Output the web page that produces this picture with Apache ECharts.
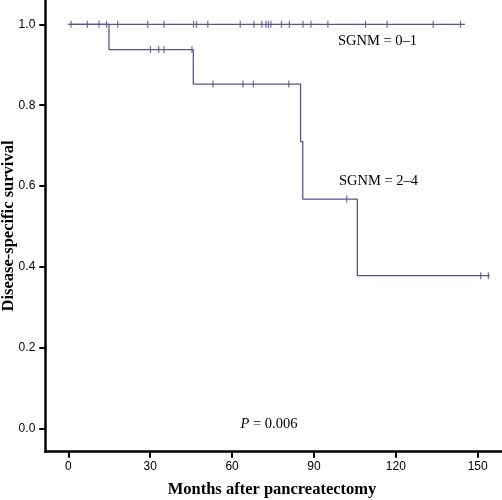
<!DOCTYPE html>
<html>
<head>
<meta charset="utf-8">
<script src="https://cdn.jsdelivr.net/npm/echarts@6/dist/echarts.min.js"></script>
<style>html,body{margin:0;padding:0;background:#fff}#c{width:502px;height:500px}</style>
</head>
<body>
<div id="c"></div>
<script>
// ---- data ----
var xTicks = [0, 30, 60, 90, 120, 150];
var yTicks = [0, 0.2, 0.4, 0.6, 0.8, 1.0];
// SGNM = 0-1 : no events
var low_eventTimes = [0];
var low_survival = [1.0];
var low_endTime = 145.3;
var low_censor = [1.0, 7.0, 11.2, 14.0, 18.1, 29.1, 35.1, 45.9, 47.0, 51.1, 63.0, 68.0, 70.9, 72.4, 73.3, 74.2, 78.1, 81.0, 86.0, 88.9, 95.1, 108.9, 116.8, 133.7, 143.7];
// SGNM = 2-4
var high_eventTimes = [0, 14.9, 45.8, 85.1, 85.9, 105.9];
var high_survival = [1.0, 0.9375, 0.8523, 0.7102, 0.5682, 0.3788];
var high_endTime = 154.5;
var high_censor = [30.1, 33.1, 35.1, 45.3, 53.0, 64.0, 67.8, 80.8, 102.0, 151.1, 153.9];

function stepData(times, surv, end) {
  var d = [];
  for (var i = 0; i < times.length; i++) d.push([times[i], surv[i]]);
  d.push([end, surv[surv.length - 1]]);
  return d;
}
function survAt(times, surv, t) {
  var s = surv[0];
  for (var i = 0; i < times.length; i++) if (times[i] <= t) s = surv[i];
  return s;
}
function censorData(times, surv, cens) {
  return cens.map(function (t) { return [t, survAt(times, surv, t)]; });
}

var lineColor = '#56568c';
var chart = echarts.init(document.getElementById('c'), null, {renderer: 'canvas'});
var axisFont = {fontFamily: '"Liberation Sans", Arial, sans-serif', fontSize: 12, color: '#000'};
chart.setOption({
  animation: false,
  backgroundColor: '#fff',
  grid: {left: 45.3, right: 0, top: 0, bottom: 48.3, containLabel: false},
  xAxis: {
    type: 'value', min: -8.43, max: 158.9,
    splitLine: {show: false},
    axisLine: {show: true, onZero: false, lineStyle: {color: '#000', width: 2.5}},
    axisTick: {show: true, length: 6, lineStyle: {color: '#000', width: 2}, customValues: xTicks},
    axisLabel: Object.assign({margin: 9, customValues: xTicks, formatter: function (v) { return String(v); }}, axisFont)
  },
  yAxis: {
    type: 'value', min: -0.056, max: 1.06,
    splitLine: {show: false},
    axisLine: {show: true, onZero: false, lineStyle: {color: '#000', width: 2.5}},
    axisTick: {show: true, length: 6, lineStyle: {color: '#000', width: 2}, customValues: yTicks},
    axisLabel: Object.assign({margin: 10, customValues: yTicks, formatter: function (v) { return v.toFixed(1); }}, axisFont)
  },
  series: [
    {type: 'line', step: 'end', showSymbol: false, symbol: 'none',
     data: stepData(low_eventTimes, low_survival, low_endTime),
     lineStyle: {color: lineColor, width: 1.3}},
    {type: 'line', step: 'end', showSymbol: false, symbol: 'none',
     data: stepData(high_eventTimes, high_survival, high_endTime),
     lineStyle: {color: lineColor, width: 1.3}},
    {type: 'scatter', symbol: 'rect', symbolSize: [1.3, 7],
     data: censorData(low_eventTimes, low_survival, low_censor),
     itemStyle: {color: lineColor}},
    {type: 'scatter', symbol: 'rect', symbolSize: [1.3, 7],
     data: censorData(high_eventTimes, high_survival, high_censor),
     itemStyle: {color: lineColor}}
  ],
  graphic: [
    {type: 'text', x: 338, y: 41, style: {text: 'SGNM = 0\u20131', font: '14.5px "Liberation Serif", "Times New Roman", serif', fill: '#000', align: 'left', verticalAlign: 'middle'}},
    {type: 'text', x: 339, y: 181, style: {text: 'SGNM = 2\u20134', font: '14.5px "Liberation Serif", "Times New Roman", serif', fill: '#000', align: 'left', verticalAlign: 'middle'}},
    {type: 'text', x: 240.5, y: 424, style: {text: '{i|P} = 0.006', fontFamily: '"Liberation Serif", "Times New Roman", serif', fontSize: 14.5, fill: '#000', align: 'left', verticalAlign: 'middle', rich: {i: {fontStyle: 'italic', fontFamily: '"Liberation Serif", serif', fontSize: 14.5}}}},
    {type: 'text', x: 272, y: 490, style: {text: 'Months after pancreatectomy', font: 'bold 16.5px "Liberation Serif", "Times New Roman", serif', fill: '#000', align: 'center', verticalAlign: 'middle'}},
    {type: 'text', x: 9, y: 226, rotation: Math.PI / 2, style: {text: 'Disease-specific survival', font: 'bold 16.5px "Liberation Serif", "Times New Roman", serif', fill: '#000', align: 'center', verticalAlign: 'middle'}}
  ]
});
</script>
</body>
</html>
